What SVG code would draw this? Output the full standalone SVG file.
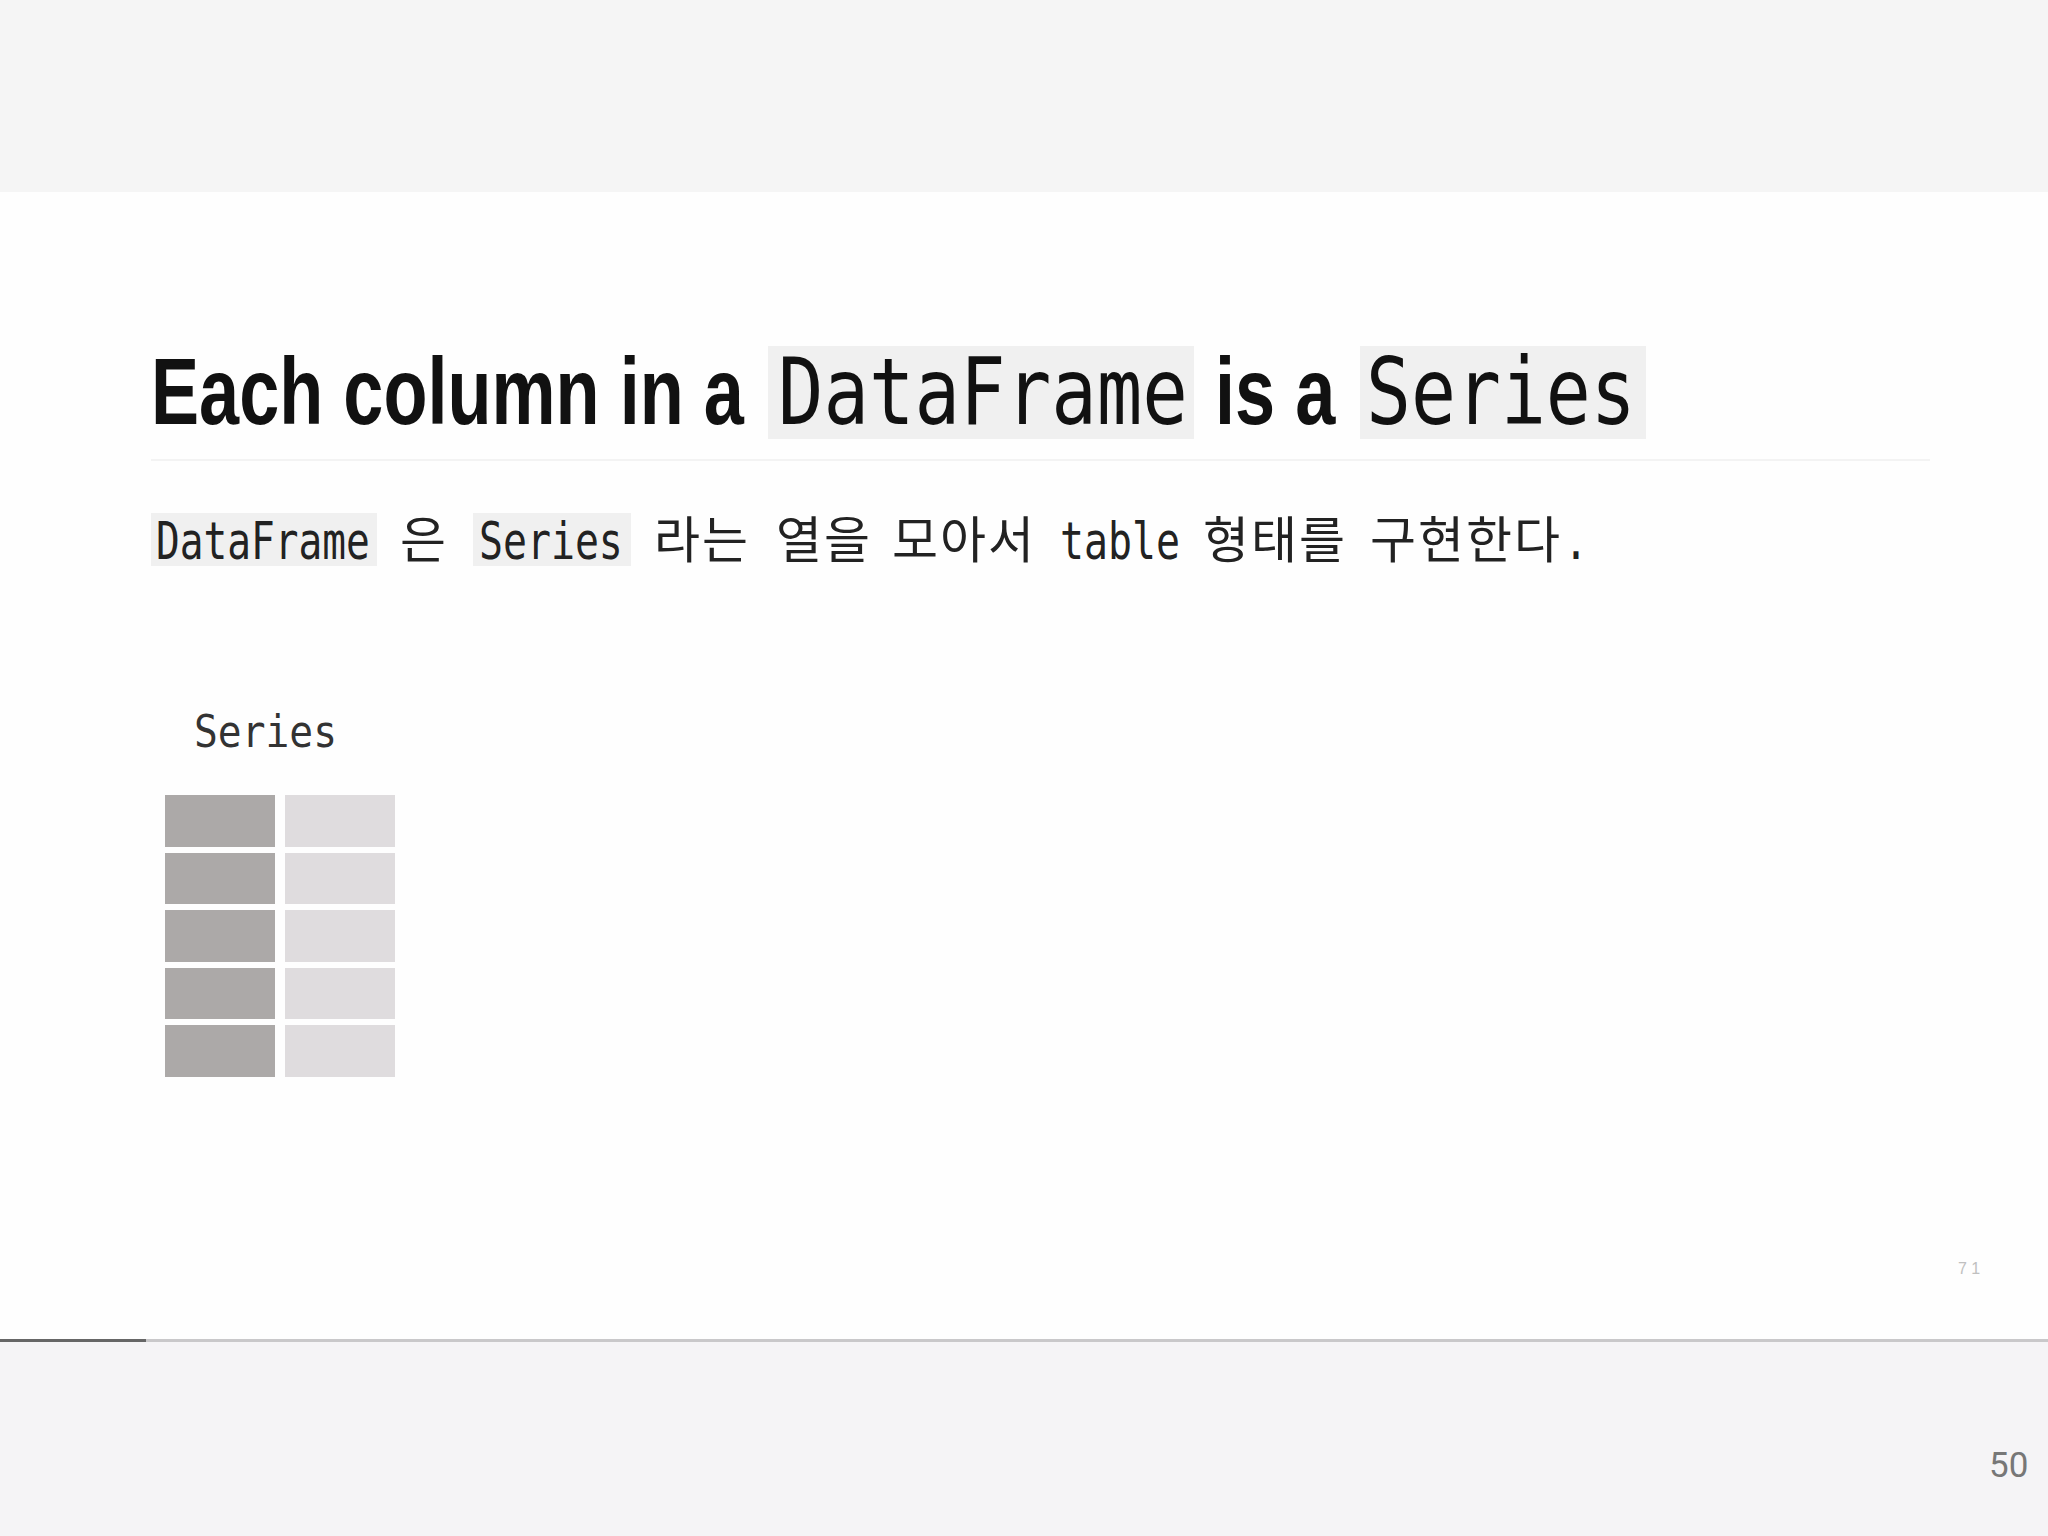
<svg xmlns="http://www.w3.org/2000/svg" width="2048" height="1536" viewBox="0 0 2048 1536">
<style>
.title{font-family:"Liberation Sans","Noto Sans",sans-serif;font-weight:bold;font-size:94px;fill:#111}
.tmono{font-family:"DejaVu Sans Mono","Liberation Mono",monospace;font-size:92px;fill:#111}
.mono{font-family:"DejaVu Sans Mono","Liberation Mono",monospace;font-size:52px;fill:#222}
.label{font-family:"DejaVu Sans Mono","Liberation Mono",monospace;font-size:44px;fill:#333}
.kr{font-family:"Noto Sans CJK KR","Noto Sans",sans-serif;font-size:50px;letter-spacing:2px;fill:#222}
.code{fill:#f0f0f0}
.dark{fill:#aca9a8}
.light{fill:#dfdcde}
</style>
<rect x="0" y="0" width="2048" height="1536" fill="#fefefe"/>
<rect x="0" y="0" width="2048" height="192" fill="#f5f5f5"/>
<rect x="0" y="1342" width="2048" height="194" fill="#f5f4f6"/>
<rect x="0" y="1339" width="2048" height="3" fill="#c9c8ca"/>
<rect x="0" y="1339" width="146" height="3" fill="#666"/>

<g id="title">
<text class="title" transform="translate(151 424) scale(0.767 1)">Each column in a</text>
<rect class="code" x="768" y="346" width="426" height="93"/>
<text class="tmono" transform="translate(778 424) scale(0.822 1)">DataFrame</text>
<text class="title" transform="translate(1215 424) scale(0.767 1)">is a</text>
<rect class="code" x="1360" y="346" width="286" height="93"/>
<text class="tmono" transform="translate(1366 424) scale(0.812 1)">Series</text>
</g>
<rect x="151" y="459" width="1779" height="2" fill="#f3f3f3"/>

<g id="subtitle">
<rect class="code" x="151" y="513" width="226" height="53"/>
<text class="mono" transform="translate(156 559) scale(0.759 1)">DataFrame</text>
<text class="kr" x="400" y="558">은</text>
<rect class="code" x="473" y="513" width="158" height="53"/>
<text class="mono" transform="translate(479 559) scale(0.766 1)">Series</text>
<text class="kr" x="654" y="558">라는</text>
<text class="kr" x="776" y="558">열을</text>
<text class="kr" x="892" y="558">모아서</text>
<text class="mono" transform="translate(1060 559) scale(0.767 1)">table</text>
<text class="kr" x="1203" y="558">형태를</text>
<text class="kr" x="1370" y="558">구현한다</text>
<text class="mono" transform="translate(1564 559) scale(0.767 1)">.</text>
</g>

<g id="series-label">
<text class="label" transform="translate(194 747) scale(0.9 1)">Series</text>
</g>

<g id="series-grid">
<rect class="dark" x="165" y="795" width="110" height="52"/>
<rect class="dark" x="165" y="853" width="110" height="51"/>
<rect class="dark" x="165" y="910" width="110" height="52"/>
<rect class="dark" x="165" y="968" width="110" height="51"/>
<rect class="dark" x="165" y="1025" width="110" height="52"/>
<rect class="light" x="285" y="795" width="110" height="52"/>
<rect class="light" x="285" y="853" width="110" height="51"/>
<rect class="light" x="285" y="910" width="110" height="52"/>
<rect class="light" x="285" y="968" width="110" height="51"/>
<rect class="light" x="285" y="1025" width="110" height="52"/>
</g>

<text x="1958" y="1274" font-family="Liberation Sans,sans-serif" font-size="16" fill="#c0c0c0">7 1</text>
<text x="1989" y="1477" font-family="Roboto,'Liberation Sans',sans-serif" font-size="35" fill="#777">50</text>
</svg>
